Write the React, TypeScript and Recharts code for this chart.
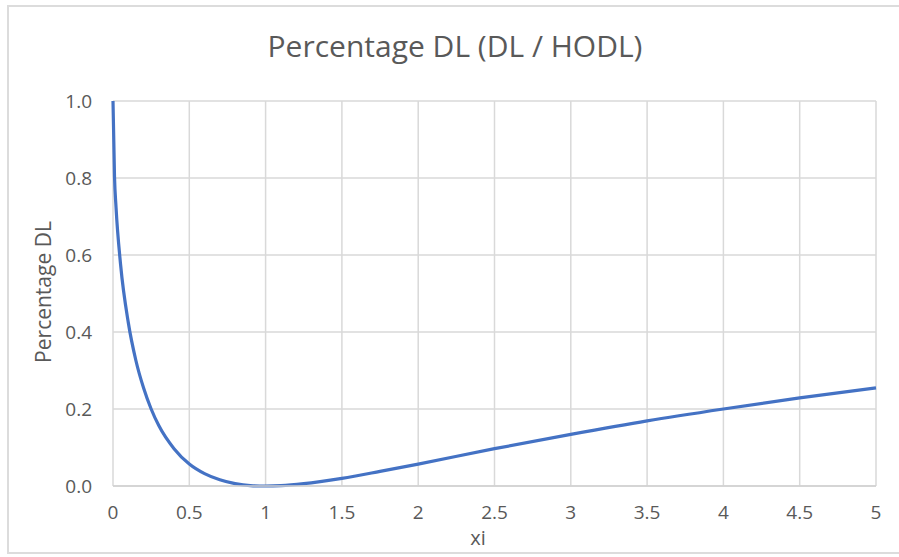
import { LineChart, Line, XAxis, YAxis, CartesianGrid } from "recharts";

const xi = [0, 0.01, 0.02, 0.05, 0.1, 0.15, 0.2, 0.25, 0.3, 0.4, 0.5, 0.6, 0.7, 0.8, 0.9, 1.0, 1.1, 1.25, 1.5, 1.75, 2, 2.5, 3, 3.5, 4, 4.5, 5];
const pctDL = [1.0, 0.802, 0.723, 0.574, 0.425, 0.326, 0.255, 0.2, 0.157, 0.097, 0.057, 0.032, 0.016, 0.006, 0.001, 0, 0.001, 0.006, 0.02, 0.038, 0.057, 0.097, 0.134, 0.169, 0.2, 0.229, 0.255];
const xTicks = [0, 0.5, 1, 1.5, 2, 2.5, 3, 3.5, 4, 4.5, 5];
const yTicks = [0, 0.2, 0.4, 0.6, 0.8, 1.0];

const data = xi.map((x, i) => ({ xi: x, dl: pctDL[i] }));

const font = "'Open Sans', sans-serif";
const grey = "#595959";

export default function App() {
  return (
    <div style={{ position: "absolute", left: 0, top: 0, width: 899, height: 557, overflow: "hidden", background: "#fff", fontFamily: font }}>
      <div style={{ position: "absolute", left: 7, top: 5, width: 900, height: 549, border: "2px solid #dcdcdc", boxSizing: "border-box" }} />
      <div style={{ position: "absolute", left: 0, width: 910, top: 25, textAlign: "center", fontSize: 30, color: grey }}>
        Percentage DL (DL / HODL)
      </div>
      <div style={{ position: "absolute", left: 43, top: 292, transform: "translate(-50%, -50%) rotate(-90deg)", whiteSpace: "nowrap", fontSize: 21, color: grey }}>
        Percentage DL
      </div>
      <div style={{ position: "absolute", left: 478, top: 537, transform: "translate(-50%, -50%)", fontSize: 20, color: grey }}>
        xi
      </div>
      <LineChart width={899} height={557} data={data} margin={{ top: 101, right: 23, bottom: 0, left: 0 }}>
        <CartesianGrid stroke="#d9d9d9" strokeWidth={1.5} />
        <XAxis
          dataKey="xi"
          type="number"
          domain={[0, 5]}
          ticks={xTicks}
          height={71}
          axisLine={{ stroke: "#d0d0d0", strokeWidth: 1.5 }}
          tickLine={false}
          tickSize={0}
          tickMargin={20}
          tick={{ fill: grey, fontSize: 19, fontFamily: font }}
        />
        <YAxis
          type="number"
          domain={[0, 1]}
          ticks={yTicks}
          width={113}
          axisLine={false}
          tickLine={false}
          tickSize={0}
          tickMargin={21}
          tickFormatter={(v: number) => v.toFixed(1)}
          tick={{ fill: grey, fontSize: 19, fontFamily: font }}
        />
        <Line type="monotone" dataKey="dl" stroke="#4472C4" strokeWidth={3.2} dot={false} isAnimationActive={false} />
      </LineChart>
    </div>
  );
}
